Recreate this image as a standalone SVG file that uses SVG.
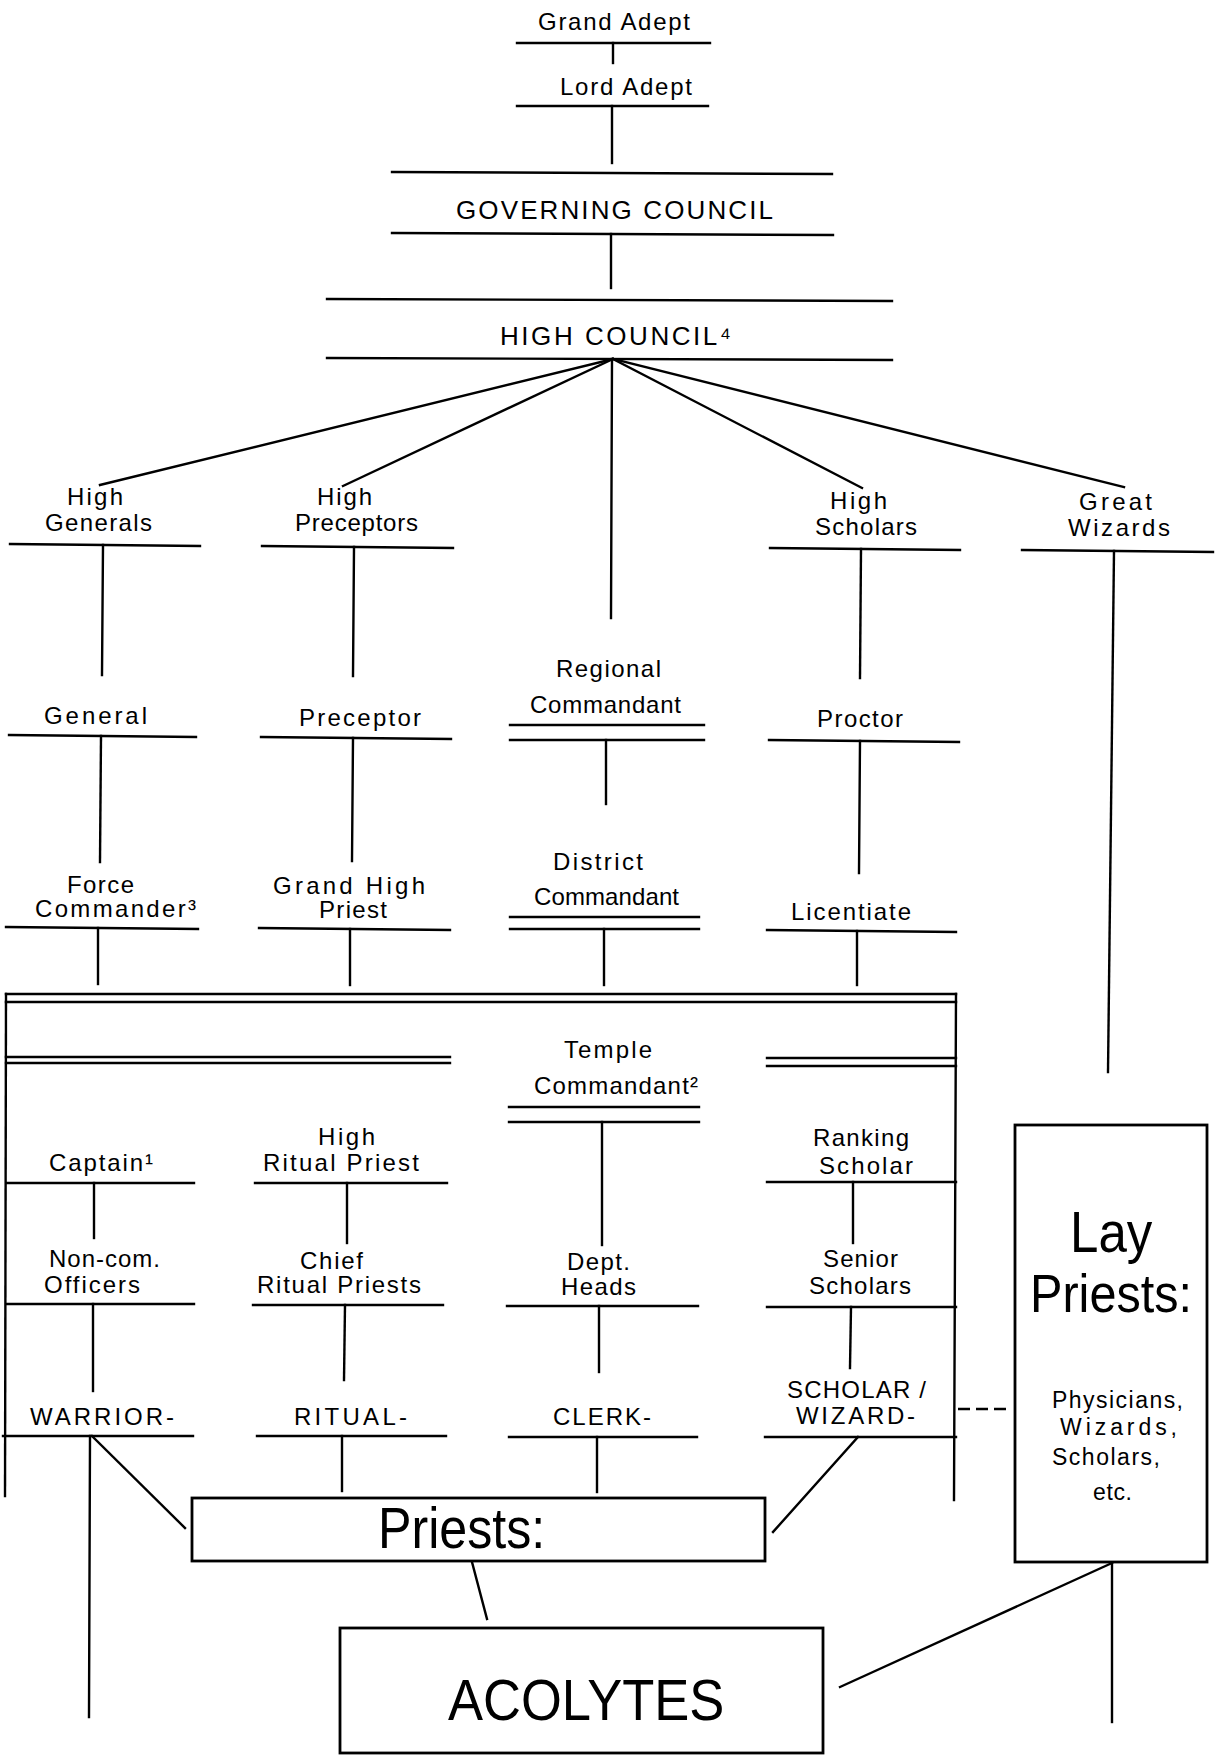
<svg xmlns="http://www.w3.org/2000/svg" width="1218" height="1757" viewBox="0 0 1218 1757">
<style>
  text { font-family: "Liberation Sans", Arial, sans-serif; fill: #000; }
  .lbl { font-size: 24px; }
  .big { font-size: 26px; }
  .sm { font-size: 23px; }
  line { stroke: #000; stroke-width: 2.4; fill: none; stroke-linecap: square; }
  rect.box { stroke: #000; stroke-width: 2.8; fill: #fff; }
  .dash { stroke-dasharray: 12 6; stroke-linecap: butt; }
</style>
<rect width="1218" height="1757" fill="#fff"/>

<g id="connectors">
  <line x1="613" y1="43" x2="613" y2="63"/>
  <line x1="612" y1="106" x2="612" y2="163"/>
  <line x1="611" y1="234" x2="611" y2="288"/>
  <line x1="613" y1="359" x2="100" y2="485"/>
  <line x1="613" y1="359" x2="343" y2="486"/>
  <line x1="612" y1="359" x2="611" y2="618"/>
  <line x1="613" y1="359" x2="862" y2="488"/>
  <line x1="613" y1="359" x2="1124" y2="487"/>
  <line x1="103" y1="545" x2="102" y2="675"/>
  <line x1="354" y1="547" x2="353" y2="676"/>
  <line x1="861" y1="549" x2="860" y2="678"/>
  <line x1="1114" y1="551" x2="1108" y2="1072"/>
  <line x1="101" y1="736" x2="100" y2="862"/>
  <line x1="353" y1="738" x2="352" y2="861"/>
  <line x1="606" y1="740" x2="606" y2="804"/>
  <line x1="860" y1="741" x2="859" y2="873"/>
  <line x1="98" y1="928" x2="98" y2="984"/>
  <line x1="350" y1="929" x2="350" y2="985"/>
  <line x1="604" y1="929" x2="604" y2="985"/>
  <line x1="857" y1="931" x2="857" y2="985"/>
  <line x1="602" y1="1122" x2="602" y2="1245"/>
  <line x1="94" y1="1183" x2="94" y2="1238"/>
  <line x1="347" y1="1183" x2="347" y2="1243"/>
  <line x1="853" y1="1182" x2="853" y2="1243"/>
  <line x1="93" y1="1304" x2="93" y2="1391"/>
  <line x1="345" y1="1305" x2="344" y2="1380"/>
  <line x1="599" y1="1306" x2="599" y2="1372"/>
  <line x1="851" y1="1307" x2="850" y2="1368"/>
  <line x1="90" y1="1436" x2="89" y2="1717"/>
  <line x1="92" y1="1436" x2="185" y2="1528"/>
  <line x1="342" y1="1436" x2="342" y2="1491"/>
  <line x1="597" y1="1437" x2="597" y2="1492"/>
  <line x1="858" y1="1437" x2="773" y2="1532"/>
  <line x1="472" y1="1562" x2="487" y2="1619"/>
  <line x1="1112" y1="1563" x2="840" y2="1687"/>
  <line x1="1112" y1="1563" x2="1112" y2="1722"/>
  <line class="dash" x1="958" y1="1409" x2="1012" y2="1409"/>
</g>

<g id="n-grand-adept">
  <text class="lbl" x="538" y="30" textLength="152">Grand Adept</text>
  <line x1="517" y1="43" x2="710" y2="43"/>
</g>
<g id="n-lord-adept">
  <text class="lbl" x="560" y="95" textLength="132">Lord Adept</text>
  <line x1="517" y1="106" x2="708" y2="106"/>
</g>
<g id="n-governing-council">
  <line x1="392" y1="172" x2="832" y2="174"/>
  <text class="big" x="456" y="219" textLength="317">GOVERNING  COUNCIL</text>
  <line x1="392" y1="233" x2="833" y2="235"/>
</g>
<g id="n-high-council">
  <line x1="327" y1="299" x2="892" y2="301"/>
  <text class="big" x="500" y="345" textLength="231">HIGH COUNCIL⁴</text>
  <line x1="327" y1="358" x2="892" y2="360"/>
</g>

<g id="n-high-generals">
  <text class="lbl" x="67" y="505" textLength="56">High</text>
  <text class="lbl" x="45" y="531" textLength="107">Generals</text>
  <line x1="10" y1="544" x2="200" y2="546"/>
</g>
<g id="n-high-preceptors">
  <text class="lbl" x="317" y="505" textLength="55">High</text>
  <text class="lbl" x="295" y="531" textLength="123">Preceptors</text>
  <line x1="262" y1="546" x2="453" y2="548"/>
</g>
<g id="n-high-scholars">
  <text class="lbl" x="830" y="509" textLength="57">High</text>
  <text class="lbl" x="815" y="535" textLength="102">Scholars</text>
  <line x1="770" y1="548" x2="960" y2="550"/>
</g>
<g id="n-great-wizards">
  <text class="lbl" x="1079" y="510" textLength="73">Great</text>
  <text class="lbl" x="1068" y="536" textLength="102">Wizards</text>
  <line x1="1022" y1="550" x2="1213" y2="552"/>
</g>

<g id="n-general">
  <text class="lbl" x="44" y="724" textLength="103">General</text>
  <line x1="9" y1="735" x2="196" y2="737"/>
</g>
<g id="n-preceptor">
  <text class="lbl" x="299" y="726" textLength="122">Preceptor</text>
  <line x1="261" y1="737" x2="451" y2="739"/>
</g>
<g id="n-regional-commandant">
  <text class="lbl" x="556" y="677" textLength="105">Regional</text>
  <text class="lbl" x="530" y="713" textLength="151">Commandant</text>
  <line x1="510" y1="725" x2="704" y2="725"/>
  <line x1="510" y1="740" x2="704" y2="740"/>
</g>
<g id="n-proctor">
  <text class="lbl" x="817" y="727" textLength="86">Proctor</text>
  <line x1="769" y1="740" x2="959" y2="742"/>
</g>

<g id="n-force-commander">
  <text class="lbl" x="67" y="893" textLength="67">Force</text>
  <text class="lbl" x="35" y="917" textLength="161">Commander³</text>
  <line x1="6" y1="927" x2="198" y2="929"/>
</g>
<g id="n-grand-high-priest">
  <text class="lbl" x="273" y="894" textLength="152">Grand  High</text>
  <text class="lbl" x="319" y="918" textLength="68">Priest</text>
  <line x1="259" y1="928" x2="450" y2="930"/>
</g>
<g id="n-district-commandant">
  <text class="lbl" x="553" y="870" textLength="90">District</text>
  <text class="lbl" x="534" y="905" textLength="145">Commandant</text>
  <line x1="510" y1="917" x2="699" y2="917"/>
  <line x1="510" y1="929" x2="699" y2="929"/>
</g>
<g id="n-licentiate">
  <text class="lbl" x="791" y="920" textLength="120">Licentiate</text>
  <line x1="767" y1="930" x2="956" y2="932"/>
</g>

<g id="temple-frame">
  <line x1="6" y1="994" x2="956" y2="994"/>
  <line x1="6" y1="1002" x2="956" y2="1002"/>
  <line x1="6" y1="994" x2="5" y2="1496"/>
  <line x1="956" y1="994" x2="954" y2="1500"/>
  <line x1="6" y1="1057" x2="450" y2="1057"/>
  <line x1="6" y1="1063" x2="450" y2="1063"/>
  <line x1="767" y1="1058" x2="956" y2="1058"/>
  <line x1="767" y1="1066" x2="956" y2="1066"/>
</g>
<g id="n-temple-commandant">
  <text class="lbl" x="564" y="1058" textLength="88">Temple</text>
  <text class="lbl" x="534" y="1094" textLength="164">Commandant²</text>
  <line x1="509" y1="1107" x2="699" y2="1107"/>
  <line x1="509" y1="1122" x2="699" y2="1122"/>
</g>

<g id="n-captain">
  <text class="lbl" x="49" y="1171" textLength="104">Captain¹</text>
  <line x1="7" y1="1183" x2="194" y2="1183"/>
</g>
<g id="n-high-ritual-priest">
  <text class="lbl" x="318" y="1145" textLength="57">High</text>
  <text class="lbl" x="263" y="1171" textLength="156">Ritual Priest</text>
  <line x1="255" y1="1183" x2="447" y2="1183"/>
</g>
<g id="n-ranking-scholar">
  <text class="lbl" x="813" y="1146" textLength="96">Ranking</text>
  <text class="lbl" x="819" y="1174" textLength="94">Scholar</text>
  <line x1="767" y1="1182" x2="956" y2="1182"/>
</g>

<g id="n-noncom-officers">
  <text class="lbl" x="49" y="1267" textLength="111">Non-com.</text>
  <text class="lbl" x="44" y="1293" textLength="96">Officers</text>
  <line x1="7" y1="1304" x2="194" y2="1304"/>
</g>
<g id="n-chief-ritual-priests">
  <text class="lbl" x="300" y="1269" textLength="63">Chief</text>
  <text class="lbl" x="257" y="1293" textLength="164">Ritual Priests</text>
  <line x1="253" y1="1305" x2="443" y2="1305"/>
</g>
<g id="n-dept-heads">
  <text class="lbl" x="567" y="1270" textLength="63">Dept.</text>
  <text class="lbl" x="561" y="1295" textLength="75">Heads</text>
  <line x1="507" y1="1306" x2="698" y2="1306"/>
</g>
<g id="n-senior-scholars">
  <text class="lbl" x="823" y="1267" textLength="75">Senior</text>
  <text class="lbl" x="809" y="1294" textLength="102">Scholars</text>
  <line x1="767" y1="1307" x2="956" y2="1307"/>
</g>

<g id="n-warrior">
  <text class="lbl" x="30" y="1425" textLength="144">WARRIOR-</text>
  <line x1="3" y1="1436" x2="193" y2="1436"/>
</g>
<g id="n-ritual">
  <text class="lbl" x="294" y="1425" textLength="113">RITUAL-</text>
  <line x1="257" y1="1436" x2="446" y2="1436"/>
</g>
<g id="n-clerk">
  <text class="lbl" x="553" y="1425" textLength="98">CLERK-</text>
  <line x1="509" y1="1437" x2="697" y2="1437"/>
</g>
<g id="n-scholar-wizard">
  <text class="lbl" x="787" y="1398" textLength="139">SCHOLAR /</text>
  <text class="lbl" x="796" y="1424" textLength="119">WIZARD-</text>
  <line x1="765" y1="1437" x2="956" y2="1437"/>
</g>

<g id="n-priests">
  <rect class="box" x="192" y="1498" width="573" height="63"/>
  <text transform="translate(378,1548) scale(0.88,1)" x="0" y="0" style="font-size:57px">Priests:</text>
</g>
<g id="n-acolytes">
  <rect class="box" x="340" y="1628" width="483" height="125"/>
  <text transform="translate(448,1720) scale(0.906,1)" x="0" y="0" style="font-size:58px">ACOLYTES</text>
</g>
<g id="n-lay-priests">
  <rect class="box" x="1015" y="1125" width="192" height="437"/>
  <text transform="translate(1070,1252) scale(0.88,1)" x="0" y="0" style="font-size:58px">Lay</text>
  <text transform="translate(1030,1312) scale(0.9,1)" x="0" y="0" style="font-size:54px">Priests:</text>
  <text class="sm" x="1052" y="1408" textLength="131">Physicians,</text>
  <text class="sm" x="1060" y="1435" textLength="117">Wizards,</text>
  <text class="sm" x="1052" y="1465" textLength="108">Scholars,</text>
  <text class="sm" x="1093" y="1500" textLength="39">etc.</text>
</g>
</svg>
